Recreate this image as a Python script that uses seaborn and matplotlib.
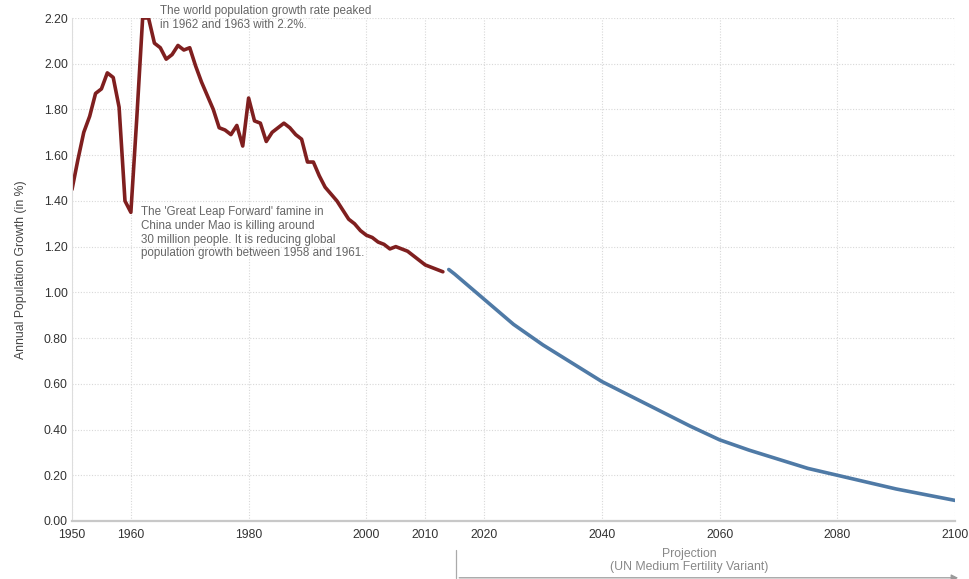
import matplotlib
matplotlib.use("Agg")
import matplotlib.pyplot as plt
import seaborn as sns
import pandas as pd

# ----------------------------------------
# Data
# ----------------------------------------

hist_years = list(range(1950, 2014))
hist_growth = [1.45, 1.58, 1.70, 1.77, 1.87, 1.89, 1.96, 1.94, 1.81, 1.40,
               1.35, 1.76, 2.20, 2.20, 2.09, 2.07, 2.02, 2.04, 2.08, 2.06,
               2.07, 1.99, 1.92, 1.86, 1.80, 1.72, 1.71, 1.69, 1.73, 1.64,
               1.85, 1.75, 1.74, 1.66, 1.70, 1.72, 1.74, 1.72, 1.69, 1.67,
               1.57, 1.57, 1.51, 1.46, 1.43, 1.40, 1.36, 1.32, 1.30, 1.27,
               1.25, 1.24, 1.22, 1.21, 1.19, 1.20, 1.19, 1.18, 1.16, 1.14,
               1.12, 1.11, 1.10, 1.09]

proj_years = [2014, 2015, 2020, 2025, 2030, 2035, 2040, 2045, 2050, 2055,
              2060, 2065, 2070, 2075, 2080, 2085, 2090, 2095, 2100]
proj_growth = [1.10, 1.08, 0.97, 0.86, 0.77, 0.69, 0.61, 0.545, 0.48, 0.415,
               0.355, 0.31, 0.27, 0.23, 0.20, 0.17, 0.14, 0.115, 0.09]

x_ticks = [1950, 1960, 1980, 2000, 2010, 2020, 2040, 2060, 2080, 2100]
y_ticks = [0.0, 0.2, 0.4, 0.6, 0.8, 1.0, 1.2, 1.4, 1.6, 1.8, 2.0, 2.2]

hist = pd.DataFrame({"Year": hist_years, "Growth": hist_growth})
proj = pd.DataFrame({"Year": proj_years, "Growth": proj_growth})

# ----------------------------------------
# Plot
# ----------------------------------------

sns.set_style("white")
plt.rcParams["font.family"] = ["Liberation Sans", "DejaVu Sans"]

fig = plt.figure(figsize=(9.69, 5.79), dpi=100)
ax = fig.add_axes([0.0743, 0.1002, 0.9113, 0.8687])

sns.lineplot(data=hist, x="Year", y="Growth", color="#7f1f1f", linewidth=2.6, ax=ax)
sns.lineplot(data=proj, x="Year", y="Growth", color="#4f7aa6", linewidth=2.6, ax=ax)

ax.set_xlim(1950, 2100)
ax.set_ylim(0, 2.2)
ax.set_xticks(x_ticks)
ax.set_yticks(y_ticks)
ax.set_yticklabels(["%.2f" % v for v in y_ticks])
ax.tick_params(axis="both", labelsize=8.8, colors="#333333", length=0)
ax.tick_params(axis="x", pad=6)
ax.tick_params(axis="y", pad=3)
ax.set_xlabel("")
ax.set_ylabel("Annual Population Growth (in %)", fontsize=8.8, color="#444444", labelpad=12)

ax.grid(True, linestyle=(0, (1, 1.5)), color="#d8d8d8", linewidth=0.8)
for side in ["top", "right"]:
    ax.spines[side].set_visible(False)
ax.spines["left"].set_color("#dddddd")
ax.spines["bottom"].set_color("#c8c8c8")
ax.spines["bottom"].set_linewidth(1.6)

# annotations
ax.text(1964.9, 2.255, "The world population growth rate peaked\nin 1962 and 1963 with 2.2%.",
        fontsize=8.4, color="#666666", va="top", ha="left", linespacing=1.15, clip_on=False)
ax.text(1961.8, 1.378, "The 'Great Leap Forward' famine in\nChina under Mao is killing around\n"
        "30 million people. It is reducing global\npopulation growth between 1958 and 1961.",
        fontsize=8.4, color="#666666", va="top", ha="left", linespacing=1.2)

# projection bracket below the axis
trans = ax.get_xaxis_transform()
ax.plot([2015.3, 2015.3], [-0.057, -0.113], transform=trans, color="#aaaaaa",
        linewidth=0.9, clip_on=False)
ax.annotate("", xy=(2101, -0.113), xytext=(2015.3, -0.113), xycoords=trans,
            textcoords=trans,
            arrowprops=dict(arrowstyle="-|>", color="#999999", lw=0.9, mutation_scale=10),
            annotation_clip=False)
ax.text(2054.9, -0.0785, "Projection\n(UN Medium Fertility Variant)", transform=trans,
        fontsize=8.8, color="#888888", ha="center", va="center", linespacing=1.2)

plt.savefig("out.png", dpi=100)
